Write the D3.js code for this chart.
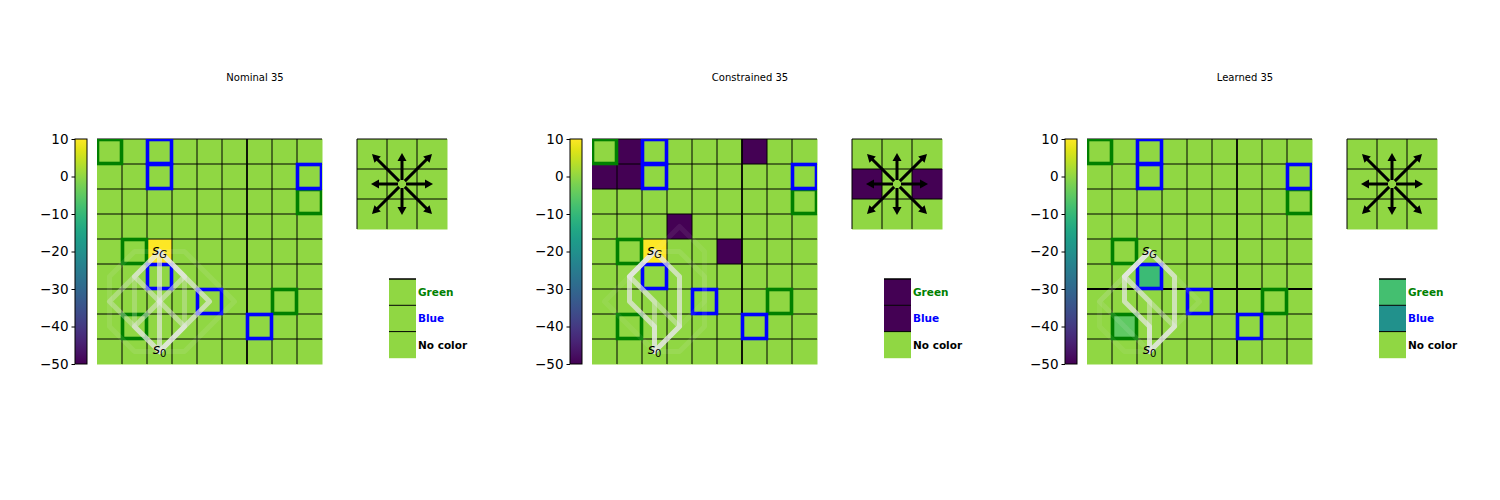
<!DOCTYPE html>
<html><head><meta charset="utf-8">
<script src="https://cdn.jsdelivr.net/npm/d3@7"></script>
<style>body{margin:0;background:#fff}</style>
</head><body><svg id="c" width="1500" height="500"></svg>
<script>
// ---------- data ----------
const panelTitles = ["Nominal 35", "Constrained 35", "Learned 35"];
const colorbarTicks = [10, 0, -10, -20, -30, -40, -50];
const legendLabels = ["Green", "Blue", "No color"];
const legendTextColors = ["#008000", "#0000ff", "#000000"];

// 9x9 cost maps (row 0 = top)
const nominalGrid = [
  [0,0,0,0,0,0,0,0,0],
  [0,0,0,0,0,0,0,0,0],
  [0,0,0,0,0,0,0,0,0],
  [0,0,0,0,0,0,0,0,0],
  [0,0,10,0,0,0,0,0,0],
  [0,0,0,0,0,0,0,0,0],
  [0,0,0,0,0,0,0,0,0],
  [0,0,0,0,0,0,0,0,0],
  [0,0,0,0,0,0,0,0,0]
];
const constrainedGrid = [
  [0,-50,0,0,0,0,-50,0,0],
  [-50,-50,0,0,0,0,0,0,0],
  [0,0,0,0,0,0,0,0,0],
  [0,0,0,-50,0,0,0,0,0],
  [0,0,10,0,0,-50,0,0,0],
  [0,0,0,0,0,0,0,0,0],
  [0,0,0,0,0,0,0,0,0],
  [0,0,0,0,0,0,0,0,0],
  [0,0,0,0,0,0,0,0,0]
];
const learnedGrid = [
  [0,0,0,0,0,0,0,0,0],
  [0,0,0,0,0,0,0,0,0],
  [0,0,0,0,0,0,0,0,0],
  [0,0,0,0,0,0,0,0,0],
  [0,0,0,0,0,0,0,0,0],
  [0,0,-9,0,0,0,0,0,0],
  [0,0,0,0,0,0,0,0,0],
  [0,-5,0,0,0,0,0,0,0],
  [0,0,0,0,0,0,0,0,0]
];

// outlined cells [row, col]
const greenCells = [[0,0],[2,8],[4,1],[6,7],[7,1]];
const blueCells = [[0,2],[1,2],[1,8],[5,2],[6,4],[7,6]];
const goalCell = [4,2];
const startCell = [8,2];

// action cost maps (3x3)
const nominalActions = [[0,0,0],[0,0,0],[0,0,0]];
const constrainedActions = [[0,0,0],[-50,0,-50],[0,0,0]];
const learnedActions = [[0,0,0],[0,0,0],[0,0,0]];
const arrowDirections = [[-1,-1],[0,-1],[1,-1],[-1,0],[1,0],[-1,1],[0,1],[1,1]];

// legend (feature) cost values: Green, Blue, No color
const nominalLegend = [0, 0, 0];
const constrainedLegend = [-50, -50, 0];
const learnedLegend = [-8, -20, 0];

// trajectories as [col,row] cell centres, with opacities
const nominalPaths = [
  [[2,8],[2,7],[2,6],[2,5],[2,4]],
  [[2,8],[3,7],[4,6],[3,5],[2,4]],
  [[2,8],[1,7],[2,6],[3,5],[2,4]],
  [[2,8],[3,7],[2,6],[1,5],[2,4]],
  [[2,8],[1,7],[0,6],[1,5],[2,4]],
  [[2,8],[1,7],[1,6],[1,5],[2,4]],
  [[2,8],[3,7],[3,6],[3,5],[2,4]],
  [[2,8],[1,8],[0,7],[0,6],[0,5],[1,4],[2,4]],
  [[2,8],[3,8],[4,7],[5,6],[4,5],[3,4],[2,4]]
];
const nominalAlphas = [0.65, 0.65, 0.5, 0.5, 0.35, 0.25, 0.3, 0.1, 0.1];

const constrainedPaths = [
  [[2,8],[3,7],[3,6],[3,5],[2,4]],
  [[2,8],[2,7],[1,6],[1,5],[2,4]],
  [[2,8],[2,7],[2,6],[1,5],[2,4]],
  [[2,8],[3,7],[2,6],[1,5],[2,4]],
  [[2,8],[3,8],[4,7],[4,6],[4,5],[3,4],[2,4]],
  [[2,8],[3,7],[4,6],[4,5],[4,4],[3,3],[2,4]],
  [[2,8],[1,7],[0,6],[1,5],[2,4]]
];
const constrainedAlphas = [0.7, 0.7, 0.45, 0.4, 0.1, 0.08, 0.08];

const learnedPaths = [
  [[2,8],[3,7],[3,6],[3,5],[2,4]],
  [[2,8],[2,7],[1,6],[1,5],[2,4]],
  [[2,8],[2,7],[2,6],[1,5],[2,4]],
  [[2,8],[3,7],[2,6],[1,5],[2,4]],
  [[2,8],[1,7],[0,6],[1,5],[2,4]],
  [[2,8],[3,7],[4,6],[3,5],[2,4]],
  [[2,8],[1,8],[0,7],[0,6],[1,5],[2,4]]
];
const learnedAlphas = [0.7, 0.7, 0.45, 0.4, 0.12, 0.1, 0.08];

// ---------- drawing ----------
const svg = d3.select("#c");
const defs = svg.append("defs");
const color = d3.scaleSequential(d3.interpolateViridis).domain([-50, 10]);
const grad = defs.append("linearGradient").attr("id", "vir")
  .attr("x1", 0).attr("y1", 1).attr("x2", 0).attr("y2", 0);
d3.range(0, 1.0001, 0.05).forEach(t =>
  grad.append("stop").attr("offset", t).attr("stop-color", d3.interpolateViridis(Math.min(t,1))));

const FONT = "DejaVu Sans, sans-serif";
const panels = [
  {grid: nominalGrid, actions: nominalActions, legend: nominalLegend, paths: nominalPaths, alphas: nominalAlphas, thickH: false},
  {grid: constrainedGrid, actions: constrainedActions, legend: constrainedLegend, paths: constrainedPaths, alphas: constrainedAlphas, thickH: false},
  {grid: learnedGrid, actions: learnedActions, legend: learnedLegend, paths: learnedPaths, alphas: learnedAlphas, thickH: true}
];

panels.forEach((P, i) => {
  const ox = i * 495;
  const g = svg.append("g");

  // title
  g.append("text").attr("x", 255 + ox).attr("y", 81).attr("text-anchor", "middle")
    .attr("font-family", FONT).attr("font-size", 10).text(panelTitles[i]);

  // colorbar
  const cb = d3.scaleLinear().domain([-50, 10]).range([364, 139]);
  g.append("rect").attr("x", 75 + ox).attr("y", cb(10)).attr("width", 12)
    .attr("height", cb(-50) - cb(10)).attr("fill", "url(#vir)")
    .attr("stroke", "#000").attr("stroke-width", 1);
  const ax = g.append("g").attr("transform", `translate(${75 + ox},0)`)
    .call(d3.axisLeft(cb).tickValues(colorbarTicks).tickSize(3.5).tickPadding(3)
      .tickFormat(d => d < 0 ? "\u2212" + Math.abs(d) : String(d)));
  ax.select(".domain").remove();
  ax.selectAll("text").attr("font-family", FONT).attr("font-size", 13.5).attr("fill", "#000");
  ax.selectAll("line").attr("stroke", "#000");

  // grid
  const x = d3.scaleLinear().domain([0, 9]).range([97 + ox, 322 + ox]);
  const y = d3.scaleLinear().domain([0, 9]).range([139, 364]);
  const cells = [];
  P.grid.forEach((row, r) => row.forEach((v, c) => cells.push({r, c, v})));
  g.selectAll(null).data(cells).enter().append("rect")
    .attr("x", d => x(d.c)).attr("y", d => y(d.r))
    .attr("width", x(1) - x(0) + 0.5).attr("height", y(1) - y(0) + 0.5)
    .attr("fill", d => color(d.v));
  // grid lines
  d3.range(1, 9).forEach(k => g.append("line")
    .attr("x1", x(k)).attr("x2", x(k)).attr("y1", y(0)).attr("y2", y(9))
    .attr("stroke", "#000").attr("stroke-width", k === 6 ? 1.8 : 1));
  d3.range(0, 9).forEach(k => g.append("line")
    .attr("x1", x(0)).attr("x2", x(9)).attr("y1", y(k)).attr("y2", y(k))
    .attr("stroke", "#000").attr("stroke-width", (P.thickH && k === 6) ? 1.8 : 1));

  // clip for outlines
  const cid = "clip" + i;
  defs.append("clipPath").attr("id", cid).append("rect")
    .attr("x", x(0)).attr("y", y(0)).attr("width", x(9) - x(0)).attr("height", y(9) - y(0));
  const og = g.append("g").attr("clip-path", `url(#${cid})`);
  const outline = (list, col) => og.selectAll(null).data(list).enter().append("rect")
    .attr("x", d => x(d[1]) + 0.5).attr("y", d => y(d[0]) + 0.5)
    .attr("width", x(1) - x(0) - 1).attr("height", y(1) - y(0) - 1)
    .attr("fill", "none").attr("stroke", col).attr("stroke-width", 3.6);
  outline(greenCells, "#008000");
  outline(blueCells, "#0000ff");

  // trajectories
  const line = d3.line().x(d => x(d[0] + 0.5)).y(d => y(d[1] + 0.5));
  og.selectAll(null).data(P.paths).enter().append("path")
    .attr("d", line).attr("fill", "none").attr("stroke", "#e8e8e8")
    .attr("stroke-width", 5).attr("stroke-linejoin", "round").attr("stroke-linecap", "round")
    .attr("stroke-opacity", (d, k) => P.alphas[k]);

  // labels s_G, s_0
  const lab = (cell, sub, dy, italicSub) => {
    const t = g.append("text").attr("x", x(cell[1] + 0.5)).attr("y", y(cell[0] + 0.5) + dy)
      .attr("text-anchor", "middle").attr("font-family", FONT).attr("font-size", 14);
    t.append("tspan").attr("font-style", "italic").text("s");
    t.append("tspan").attr("font-size", 10).attr("dy", 3)
      .attr("font-style", italicSub ? "italic" : "normal").text(sub);
  };
  lab(goalCell, "G", 3, true);
  lab(startCell, "0", 2, false);

  // action panel
  const ax0 = 357 + ox, ay0 = 139, cs = 30;
  P.actions.forEach((row, r) => row.forEach((v, c) => {
    g.append("rect").attr("x", ax0 + c * cs).attr("y", ay0 + r * cs)
      .attr("width", cs + 0.5).attr("height", cs + 0.5).attr("fill", color(v));
  }));
  d3.range(0, 3).forEach(k => {
    g.append("line").attr("x1", ax0 + k * cs).attr("x2", ax0 + k * cs)
      .attr("y1", ay0).attr("y2", ay0 + 3 * cs).attr("stroke", "#000").attr("stroke-width", 1);
    g.append("line").attr("x1", ax0).attr("x2", ax0 + 3 * cs)
      .attr("y1", ay0 + k * cs).attr("y2", ay0 + k * cs).attr("stroke", "#000").attr("stroke-width", 1);
  });
  const cx = ax0 + 1.5 * cs, cy = ay0 + 1.5 * cs;
  arrowDirections.forEach(([dx, dy]) => {
    const diag = dx !== 0 && dy !== 0;
    const L = diag ? 30 * Math.SQRT2 : 31;
    const ang = Math.atan2(dy, dx);
    const ux = Math.cos(ang), uy = Math.sin(ang), px = -uy, py = ux;
    const s0 = 4, hl = 8, hw = 4.5;
    const tipx = cx + ux * L, tipy = cy + uy * L;
    const bx = cx + ux * (L - hl), by = cy + uy * (L - hl);
    g.append("line").attr("x1", cx + ux * s0).attr("y1", cy + uy * s0)
      .attr("x2", bx + ux).attr("y2", by + uy).attr("stroke", "#000").attr("stroke-width", 3);
    g.append("path").attr("d",
      `M${tipx},${tipy}L${bx + px * hw},${by + py * hw}L${bx - px * hw},${by - py * hw}Z`)
      .attr("fill", "#000");
  });

  // legend
  const lx = 389 + ox, ly = 279, lh = 26.3;
  P.legend.forEach((v, k) => {
    g.append("rect").attr("x", lx).attr("y", ly + k * lh).attr("width", 27).attr("height", lh + 0.3)
      .attr("fill", color(v));
  });
  d3.range(0, 3).forEach(k => g.append("line").attr("x1", lx).attr("x2", lx + 27)
    .attr("y1", ly + k * lh).attr("y2", ly + k * lh).attr("stroke", "#000")
    .attr("stroke-width", k === 0 ? 1.5 : 1));
  legendLabels.forEach((t, k) => g.append("text").attr("x", lx + 29).attr("y", ly + k * lh + lh / 2 + 4)
    .attr("font-family", FONT).attr("font-size", 10.5).attr("font-weight", "bold")
    .attr("fill", legendTextColors[k]).text(t));
});
</script>
</body></html>
